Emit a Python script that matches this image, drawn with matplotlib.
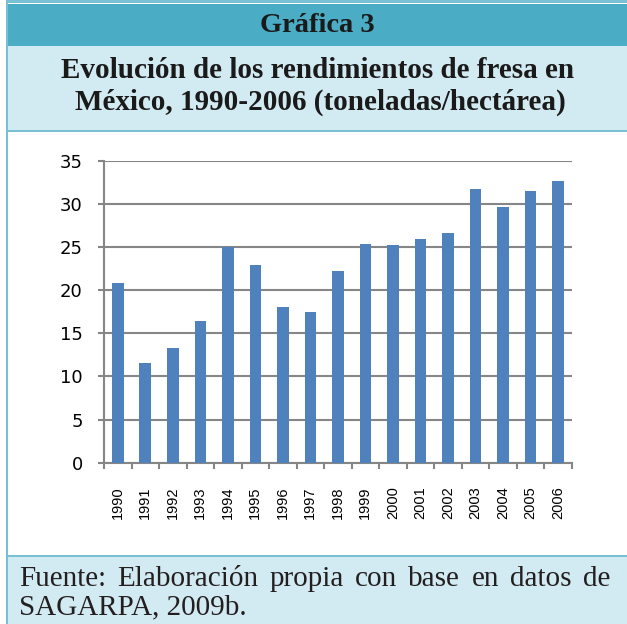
import matplotlib
matplotlib.use("Agg")
import matplotlib.pyplot as plt
from matplotlib.patches import Rectangle

# ---- data ----
years = [str(y) for y in range(1990, 2007)]
rendimiento = [20.8, 11.5, 13.3, 16.4, 25.0, 22.9, 18.0, 17.5, 22.2,
               25.4, 25.2, 25.9, 26.6, 31.7, 29.6, 31.5, 32.6]
y_ticks = [0, 5, 10, 15, 20, 25, 30, 35]
header = "Gráfica 3"
title_lines = ["Evolución de los rendimientos de fresa en",
               "México, 1990-2006 (toneladas/hectárea)"]
footer_line1 = "Fuente: Elaboración propia con base en datos de"
footer_line2 = "SAGARPA, 2009b."

W, H = 627, 624
fig = plt.figure(figsize=(W / 100, H / 100), dpi=100)
fig.patch.set_facecolor("white")


def fx(x):
    return x / W


def fy(y):
    return 1 - y / H


def band(x0, y0, x1, y1, color):
    fig.patches.append(Rectangle((fx(x0), fy(y1)), fx(x1) - fx(x0), fy(y0) - fy(y1),
                                 transform=fig.transFigure, facecolor=color,
                                 edgecolor="none", zorder=0))


DARK = "#4BACC6"
LIGHT = "#D2EAF1"
BORDER = "#78C0D3"

band(6, 0, W, 3, BORDER)
band(8, 4, W, 46, DARK)
band(8, 46, W, 130, LIGHT)
band(6, 130, W, 132, BORDER)
band(6, 555, W, 557, BORDER)
band(8, 557, W, H, LIGHT)
band(6, 0, 8, H, BORDER)

# header texts
fig.text(fx(317), fy(25), header, ha="center", va="center",
         family="Liberation Serif", weight="bold", fontsize=20.5, color="#1a1a1a")
fig.text(fx(318), fy(70), title_lines[0], ha="center", va="center",
         family="Liberation Serif", weight="bold", fontsize=21, color="#1a1a1a")
fig.text(fx(320), fy(102), title_lines[1], ha="center", va="center",
         family="Liberation Serif", weight="bold", fontsize=21, color="#1a1a1a")

# chart
GRAY = "#868686"
ax = fig.add_axes([fx(104), fy(462.7), fx(571.7) - fx(104), fy(160.7) - fy(462.7)])
ax.set_facecolor("none")
x = list(range(len(years)))
ax.bar(x, rendimiento, width=0.42, color="#4F81BD", zorder=3)
ax.set_xlim(-0.5, len(years) - 0.5)
ax.set_ylim(0, 35)
ax.set_yticks(y_ticks)
ax.set_yticklabels([str(v) for v in y_ticks], family="DejaVu Sans", fontsize=13, color="black")
ax.yaxis.grid(True, color=GRAY, linewidth=1.5, zorder=1)
ax.set_axisbelow(True)
ax.tick_params(axis="y", direction="out", length=4.3, width=1.5, color=GRAY, pad=11)
ax.set_xticks(x)
ax.set_xticklabels(years, rotation=90, family="Liberation Sans", fontsize=10.5, color="black")
ax.set_xticks([i - 0.5 for i in range(len(years) + 1)], minor=True)
ax.tick_params(axis="x", which="major", length=0, pad=17)
ax.tick_params(axis="x", which="minor", direction="out", length=4.3, width=1.5, color=GRAY)
for s in ["top", "right"]:
    ax.spines[s].set_visible(False)
for s in ["left", "bottom"]:
    ax.spines[s].set_color(GRAY)
    ax.spines[s].set_linewidth(1.5)

# footer (justified first line)
FOOT_KW = dict(family="Liberation Serif", fontsize=21, color="#231F20", va="baseline")
fig.canvas.draw()
renderer = fig.canvas.get_renderer()
words = footer_line1.split(" ")
texts = [fig.text(0, fy(586), w, ha="left", **FOOT_KW) for w in words]
widths = [t.get_window_extent(renderer).width for t in texts]
x0, x1 = 19, 610
gap = (x1 - x0 - sum(widths)) / (len(words) - 1)
cur = x0
for t, w in zip(texts, widths):
    t.set_x(fx(cur))
    cur += w + gap
fig.text(fx(19), fy(614), footer_line2, ha="left", **FOOT_KW)

fig.savefig("out.png", dpi=100)
